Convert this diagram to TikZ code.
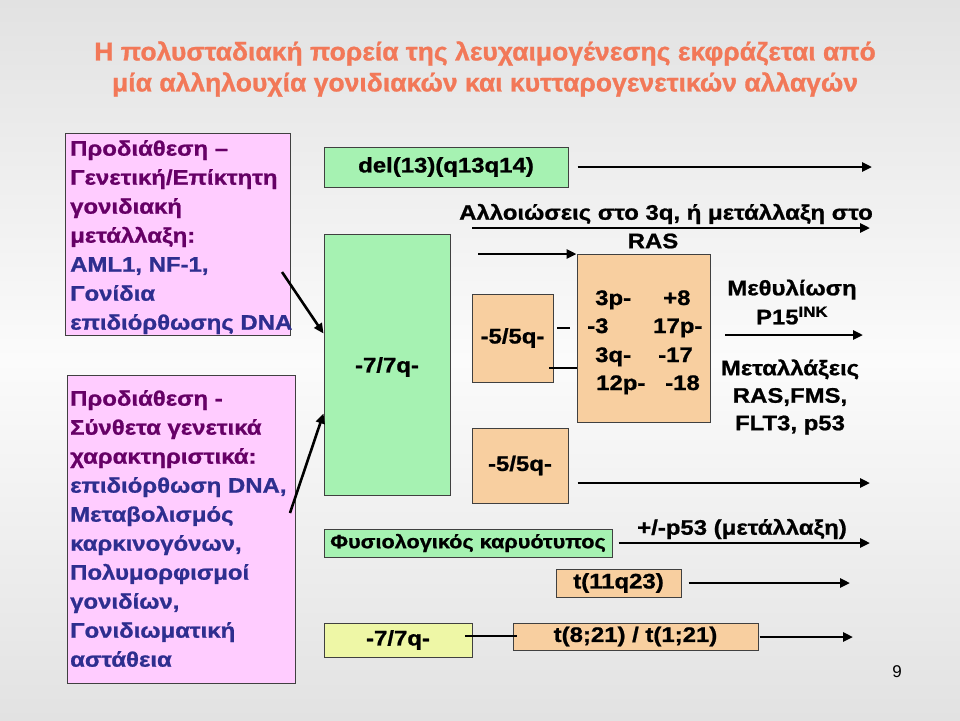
\documentclass[tikz,border=0pt]{standalone}
\usepackage{fontspec}
\setmainfont{Liberation Sans}[FakeStretch=1.14, BoldFeatures={FakeBold=1}]
\newfontfamily\titlefont{Liberation Sans}[FakeStretch=1.04, BoldFeatures={FakeBold=1}]
\newfontfamily\plainfont{Liberation Sans}
\usetikzlibrary{arrows.meta}
\definecolor{bggray}{HTML}{E2E2E2}
\definecolor{bglight}{HTML}{FBFBFB}
\definecolor{titlec}{HTML}{F27858}
\definecolor{pinkf}{HTML}{FFCCFF}
\definecolor{purp}{HTML}{660066}
\definecolor{navy}{HTML}{2E2E8F}
\definecolor{greenf}{HTML}{A6F2B2}
\definecolor{orangef}{HTML}{F8CFA0}
\definecolor{yellowf}{HTML}{EEF7A6}
\definecolor{edge}{HTML}{404040}
\tikzset{
  box/.style={draw=edge, line width=1pt, inner sep=0pt, font=\bfseries\fontsize{21}{24}\selectfont, text=black},
  gbox/.style={box, fill=greenf},
  obox/.style={box, fill=orangef},
  ybox/.style={box, fill=yellowf},
  pbox/.style={draw=edge, line width=1pt, fill=pinkf, inner sep=0pt, anchor=north west},
  arr/.style={line width=2.6pt, -{Triangle[length=10pt,width=9pt]}},
  conn/.style={line width=2.6pt},
  lbl/.style={font=\bfseries\fontsize{21}{27}\selectfont, inner sep=0pt, align=center},
  ptext/.style={font=\bfseries\fontsize{21}{29}\selectfont, inner sep=0pt, align=left, anchor=north west},
  cell/.style={font=\bfseries\fontsize{21}{24}\selectfont, inner sep=0pt, anchor=base west},
}
\begin{document}
\begin{tikzpicture}[x=1pt,y=-1pt]
\useasboundingbox (0,0) rectangle (960,720);
\shade[top color=bggray, bottom color=bggray, middle color=bglight] (0,0) rectangle (960,720);

% title
\node[font=\titlefont\bfseries\fontsize{25.5}{31}\selectfont, text=titlec, align=center, inner sep=0pt] (title) at (485,69)
  {Η πολυσταδιακή πορεία της λευχαιμογένεσης εκφράζεται από\\μία αλληλουχία γονιδιακών και κυτταρογενετικών αλλαγών};

% pink boxes
\node[pbox, minimum width=225pt, minimum height=202pt] (pb1) at (65,133) {};
\node[ptext, text=purp] (pt1) at (70,140) {Προδιάθεση –\\Γενετική/Επίκτητη\\γονιδιακή\\μετάλλαξη:\\\textcolor{navy}{AML1, NF-1,}\\\textcolor{navy}{Γονίδια}\\\textcolor{navy}{επιδιόρθωσης DNA}};
\node[pbox, minimum width=228pt, minimum height=308pt] (pb2) at (67,375) {};
\node[ptext, text=purp] (pt2) at (70,390) {Προδιάθεση -\\Σύνθετα γενετικά\\χαρακτηριστικά:\\\textcolor{navy}{επιδιόρθωση DNA,}\\\textcolor{navy}{Μεταβολισμός}\\\textcolor{navy}{καρκινογόνων,}\\\textcolor{navy}{Πολυμορφισμοί}\\\textcolor{navy}{γονιδίων,}\\\textcolor{navy}{Γονιδιωματική}\\\textcolor{navy}{αστάθεια}};

% middle boxes
\node[gbox, minimum width=244pt, minimum height=40pt] (del) at (446,167) {del(13)(q13q14)};
\node[gbox, minimum width=126pt, minimum height=261pt] (g7) at (387,364.5) {};
\node[font=\bfseries\fontsize{21}{24}\selectfont, inner sep=0pt] (g7t) at (387,367) {-7/7q-};
\node[obox, minimum width=81pt, minimum height=88pt] (o5a) at (512.5,338) {-5/5q-};
\node[obox, minimum width=133pt, minimum height=168pt] (big) at (643.5,338) {};
\node[obox, minimum width=96pt, minimum height=75pt] (o5b) at (520,465.5) {-5/5q-};
\node[gbox, minimum width=288pt, minimum height=28pt, font=\bfseries\fontsize{19}{22}\selectfont] (norm) at (468,543) {Φυσιολογικός καρυότυπος};
\node[obox, minimum width=125pt, minimum height=28pt] (t11) at (618.5,583) {t(11q23)};
\node[ybox, minimum width=148pt, minimum height=34pt] (y7) at (398,640) {-7/7q-};
\node[obox, minimum width=245pt, minimum height=27pt] (t821) at (635.5,636.5) {t(8;21) / t(1;21)};

% big box texts
\node[cell] (b1) at (595,305) {3p-};
\node[cell] (b2) at (663,305) {+8};
\node[cell] (b3) at (587,333) {-3};
\node[cell] (b4) at (653,333) {17p-};
\node[cell] (b5) at (595,362) {3q-};
\node[cell] (b6) at (658,362) {-17};
\node[cell] (b7) at (596,390) {12p-};
\node[cell] (b8) at (665,390) {-18};

% labels
\node[lbl] (alt1) at (666,214) {Αλλοιώσεις στο 3q, ή μετάλλαξη στο};
\node[lbl] (alt2) at (653,241) {RAS};
\node[lbl, font=\bfseries\fontsize{21}{29}\selectfont] (meth) at (792,302) {Μεθυλίωση\\P15\textsuperscript{INK}};
\node[lbl, font=\bfseries\fontsize{21}{27.5}\selectfont] (mut) at (790,397) {Μεταλλάξεις\\RAS,FMS,\\FLT3, p53};
\node[lbl] (p53) at (742,529) {+/-p53 (μετάλλαξη)};
\node[font=\plainfont\fontsize{17}{18}\selectfont, inner sep=0pt] (pg) at (897,672) {9};

% coordinates
\coordinate (e1) at (872,167);
\coordinate (a2s) at (472,228);
\coordinate (a2e) at (870,228);
\coordinate (a3s) at (478,254);
\coordinate (d1s) at (557,328);
\coordinate (d1e) at (570,328);
\coordinate (l1) at (549,368);
\coordinate (m1s) at (725,335);
\coordinate (m1e) at (863,335);
\coordinate (e5) at (870,483);
\coordinate (e6) at (870,543);
\coordinate (e7) at (850,583);
\coordinate (y1) at (465,636);
\coordinate (e8) at (853,637);
\coordinate (pa1) at (282,272);
\coordinate (pa2) at (290,513);

% connectors
\draw[arr] ([xshift=9pt]del.east) -- (e1);
\draw[arr] (a2s) -- (a2e);
\draw[arr] (a3s) -- (a3s -| big.west);
\draw[conn] (d1s) -- (d1e);
\draw[conn] (l1) -- (l1 -| big.west);
\draw[arr] (m1s) -- (m1e);
\draw[arr] ([xshift=9pt]o5b.east |- e5) -- (e5);
\draw[arr] ([xshift=6pt]norm.east) -- (e6);
\draw[arr] ([xshift=7pt]t11.east) -- (e7);
\draw[conn] (y1) -- ([xshift=4pt]t821.west |- y1);
\draw[arr] ([xshift=1pt]t821.east |- e8) -- (e8);
\draw[arr] (pa1) -- ([yshift=31pt]g7.west);
\draw[arr] (pa2) -- ([yshift=-49pt]g7.west);
\end{tikzpicture}
\end{document}
